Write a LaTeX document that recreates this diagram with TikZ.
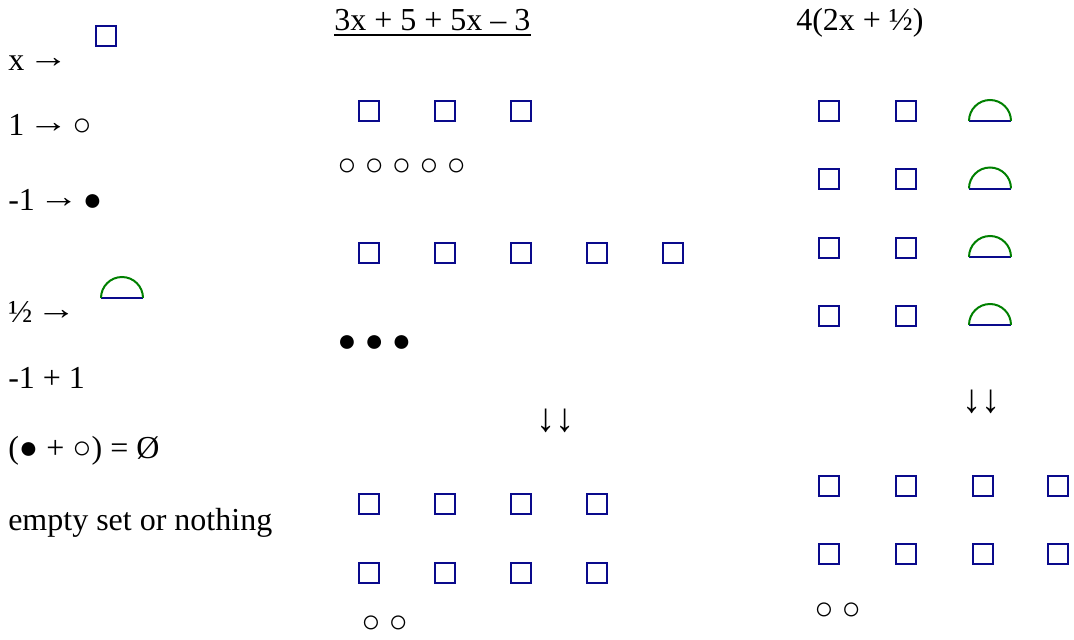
\documentclass[tikz,border=0pt]{standalone}
\usepackage{fontspec}
\setmainfont{Liberation Serif}
\definecolor{sqblue}{RGB}{10,10,140}
\definecolor{semigreen}{RGB}{0,128,0}
\newcommand{\rarrow}{\makebox[1em]{\raisebox{2.2pt}{\scalebox{1.25}[1]{→}}}}
\newcommand{\ddarrows}{\scalebox{1.2}[1.25]{↓↓}}
\begin{document}
\begin{tikzpicture}[x=0.75pt,y=-0.75pt,
  txt/.style={anchor=base west,inner sep=0pt,font=\fontsize{24}{28}\selectfont},
  sq/.style={draw=sqblue,line width=1.5pt,minimum size=15pt,inner sep=0pt,rectangle},
]
\useasboundingbox (0,0) rectangle (1074,639);
\newcommand{\semi}[3]{% name, cx, base y
  \coordinate (#1) at (#2,#3);
  \draw[sqblue,line width=1.5pt] ([xshift=-15.75pt]#1) -- ([xshift=15.75pt]#1);
  \draw[semigreen,line width=1.5pt] ([xshift=15.75pt]#1) arc[start angle=0,end angle=180,radius=15.75pt];
}
% left legend
\node[txt] (lx) at (8,70) {x \rarrow};
\node[sq] (lxs) at (106,35.5) {};
\node[txt] (l1) at (8,135) {1 \rarrow\ ○};
\node[txt] (lm1) at (8,210) {-1 \rarrow\ ●};
\node[txt] (lh) at (8,322) {½ \rarrow};
\semi{lhs}{122}{298}
\node[txt] (lsum) at (8,388) {-1 + 1};
\node[txt] (lset) at (8,458) {(● + ○) = Ø};
\node[txt] (lempty) at (8,530) {empty set or nothing};
% middle column
\node[txt] (t1) at (334,31) {3x + 5 + 5x – 3};
\draw[line width=1.3pt] (t1.base west) ++(0,4) coordinate (u1) -- (t1.base east |- u1);
\foreach \i/\x in {1/368.5,2/444.5,3/520.5}{ \node[sq] (ma\i) at (\x,110.5) {}; }
\node[txt] (mc) at (337,175) {○ ○ ○ ○ ○};
\foreach \i/\x in {1/368.5,2/444.5,3/520.5,4/597,5/673}{ \node[sq] (mb\i) at (\x,252.5) {}; }
\node[txt] (mf) at (337,351) {● ● ●};
\node[txt] (marr) at (536,431) {\ddarrows};
\foreach \i/\x in {1/368.5,2/444.5,3/520.5,4/597}{
  \node[sq] (mc\i) at (\x,504) {};
  \node[sq] (md\i) at (\x,572.5) {};
}
\node[txt] (mo) at (361,632) {○ ○};
% right column
\node[txt] (t2) at (796,30) {4(2x + ½)};
\foreach \r/\y in {1/110.5,2/178.5,3/247.5,4/315.5}{
  \node[sq] (ra\r) at (829,\y) {};
  \node[sq] (rb\r) at (905.5,\y) {};
}
\semi{rs1}{990}{121}
\semi{rs2}{990}{188.5}
\semi{rs3}{990}{257}
\semi{rs4}{990}{325}
\node[txt] (rarr) at (962,412) {\ddarrows};
\foreach \i/\x in {1/829,2/905.5,3/982.5,4/1058}{
  \node[sq] (rc\i) at (\x,486) {};
  \node[sq] (rd\i) at (\x,554) {};
}
\node[txt] (ro) at (814,619) {○ ○};
\end{tikzpicture}
\end{document}
